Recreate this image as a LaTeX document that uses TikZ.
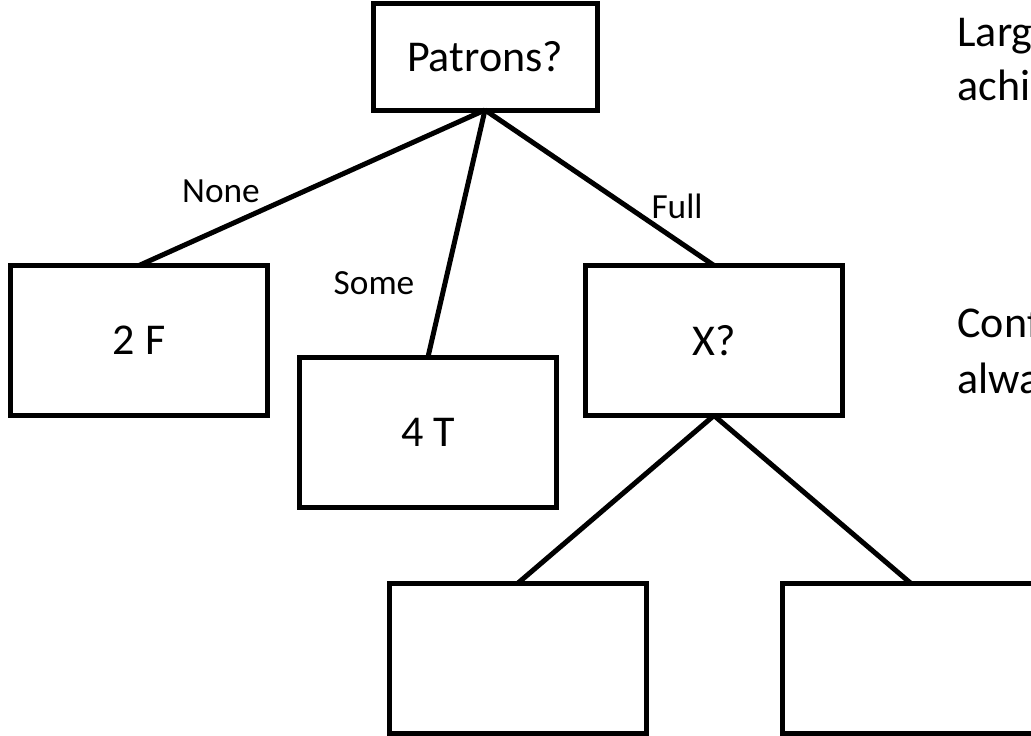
\documentclass[tikz,border=0pt]{standalone}
\usepackage{fontspec}
\setmainfont{Carlito}
\usetikzlibrary{
    calc,
    positioning
}
\tikzset{
    every picture/.style = {
        line width = 3.75pt
    },
    tree box/.style = {
        draw,
        rectangle,
        inner sep = 0pt,
        outer sep = 0pt,
        minimum width = 192.75pt,
        minimum height = 112.5pt,
        font = \fontsize{33}{40}\selectfont
    },
    branch label/.style = {
        inner sep = 0pt,
        font = \fontsize{26.5}{32}\selectfont
    },
    side text/.style = {
        inner sep = 0pt,
        anchor = base west,
        font = \fontsize{33}{40}\selectfont
    }
}

\begin{document}
\begin{tikzpicture}[
                        x = 0.75pt,
                        y = -0.75pt
                    ]
                        \useasboundingbox (0,0) rectangle (1031,735);
                        \clip (0,0) rectangle (1031,735);

                        % root and first level
                        \node[tree box, minimum width = 168pt, minimum height = 79.5pt] (patrons) at (485,57) {Patrons?};
                        \node[tree box] (none) at (139,340.5) {2 F};
                        \node[tree box] (some) at (428,432) {4 T};
                        \node[tree box] (full) at (714,340.5) {X?};

                        % second level
                        \node[tree box] (leftleaf) at (517.5,658.5) {};
                        \node[tree box] (rightleaf) at (911,658.5) {};

                        \draw (patrons.south) -- (none.north);
                        \draw (patrons.south) -- (some.north);
                        \draw (patrons.south) -- (full.north);
                        \draw (full.south) -- (leftleaf.north);
                        \draw (full.south) -- (rightleaf.north);

                        \node[branch label] (nonelabel) at (221,191.5) {None};
                        \node[branch label] (somelabel) at (374,283.5) {Some};
                        \node[branch label] (fulllabel) at (677,206.5) {Full};

                        % text cut off at the right edge
                        \node[side text] (noteone) at (955,47) {Larg};
                        \node[side text] (notetwo) at (955,100) {achi};
                        \node[side text] (notethree) at (955,337) {Conf};
                        \node[side text] (notefour) at (955,393) {alwa};
                    \end{tikzpicture}
\end{document}
